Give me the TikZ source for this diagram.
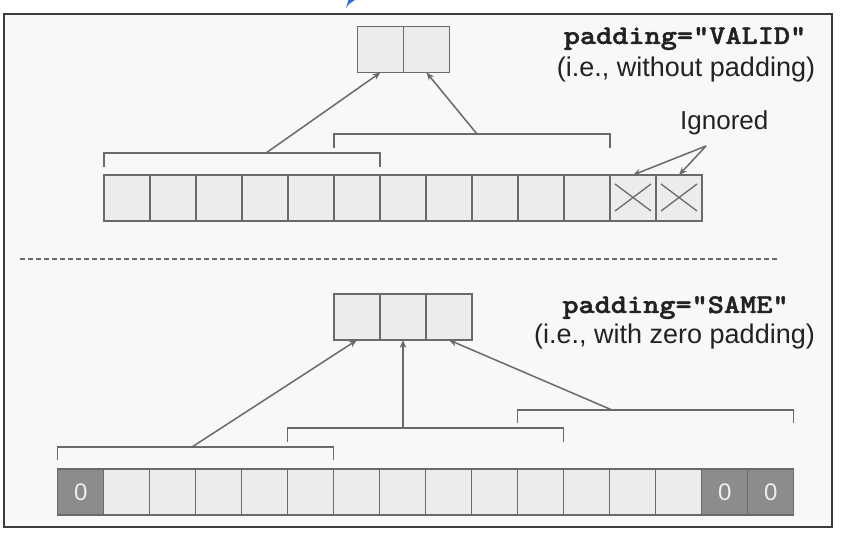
\documentclass[tikz,border=0pt]{standalone}
\usepackage{fontspec}
\setmainfont{Liberation Sans}
\newfontfamily\codefont[FakeStretch=1.14,FakeBold=1.6]{lmmonolt10-bold.otf}
\usetikzlibrary{arrows.meta}
\definecolor{linegray}{HTML}{6A6A6A}
\definecolor{framegray}{HTML}{3C3C3C}
\definecolor{cellfill}{HTML}{ECECEC}
\definecolor{zerofill}{HTML}{8C8C8C}
\definecolor{zerotext}{HTML}{EEEEEE}
\definecolor{inkcol}{HTML}{222222}
\definecolor{bgin}{HTML}{F8F8F8}
\definecolor{bluemark}{HTML}{2B6CD4}
\tikzset{
  cell/.style={draw=linegray, fill=cellfill, line width=1.5bp, minimum width=46bp, minimum height=46bp, inner sep=0pt, outer sep=0pt},
  zcell/.style={cell, fill=zerofill, text=zerotext, font=\fontsize{24bp}{26bp}\selectfont},
  brk/.style={draw=linegray, line width=1.5bp},
  arr/.style={draw=linegray, line width=1.5bp, -{Stealth[length=8bp,width=6.5bp]}},
  codetxt/.style={text=inkcol, font=\codefont\fontsize{27bp}{32bp}\selectfont, inner sep=0pt},
  plaintxt/.style={text=inkcol, font=\fontsize{27bp}{32bp}\selectfont, inner sep=0pt},
}
\begin{document}
\begin{tikzpicture}[x=1bp, y=-1bp]
\useasboundingbox (0,0) rectangle (846,533);
\fill[white] (0,0) rectangle (846,533);
% blue mark at the top edge
\fill[bluemark] (346,8) -- (348.5,0) -- (355,0) -- (349,4) -- cycle;
% frame
\draw[framegray, fill=bgin, line width=1.5bp] (4,14) rectangle (832,527);
% dashed separator
\draw[linegray, line width=2bp, dash pattern=on 5bp off 3bp] (20,259) -- (780,259);

% ---------------- VALID ----------------
\foreach \i in {1,...,13} {
  \node[cell] (v\i) at ({81+46*\i},198) {};
}
\foreach \i in {12,13} {
  \draw[linegray, line width=1.3bp] ([shift={(-18bp,14bp)}]v\i.center) -- ([shift={(18bp,-13bp)}]v\i.center);
  \draw[linegray, line width=1.3bp] ([shift={(-18bp,-13bp)}]v\i.center) -- ([shift={(18bp,14bp)}]v\i.center);
}
\node[cell] (o1) at (380.5,49.5) {};
\node[cell] (o2) at (426.5,49.5) {};

\draw[brk] ([yshift=8bp]v1.north west) -- ([yshift=22bp]v1.north west) -- ([yshift=22bp]v6.north east) -- ([yshift=8bp]v6.north east);
\draw[brk] ([yshift=27bp]v6.north west) -- ([yshift=41bp]v6.north west) -- ([yshift=41bp]v11.north east) -- ([yshift=27bp]v11.north east);

\coordinate (va) at (266,153);
\coordinate (vb) at (477,134);
\draw[arr] (va) -- (o1.south);
\draw[arr] (vb) -- (o2.south);

\node[codetxt, anchor=base] (vt1) at (685,44) {padding="VALID"};
\node[plaintxt, anchor=base] (vt2) at (686,77) {(i.e., without padding)};

\node[plaintxt, anchor=base west, font=\fontsize{26bp}{30bp}\selectfont] (ign) at (680,130) {Ignored};
\coordinate (igs) at (706,146);
\draw[arr] (igs) -- (v12.north);
\draw[arr] (igs) -- (v13.north);

% ---------------- SAME ----------------
\node[zcell] (w1) at (80.7,492) {0};
\foreach \i in {2,...,14} {
  \node[cell] (w\i) at ({34.7+46*\i},492) {};
}
\node[zcell] (w15) at (724.7,492) {0};
\node[zcell] (w16) at (770.7,492) {0};

\node[cell] (s1) at (357,317) {};
\node[cell] (s2) at (403,317) {};
\node[cell] (s3) at (449,317) {};

\draw[brk] ([yshift=9bp]w1.north west) -- ([yshift=22bp]w1.north west) -- ([yshift=22bp]w6.north east) -- ([yshift=9bp]w6.north east);
\draw[brk] ([yshift=27bp]w6.north west) -- ([yshift=41bp]w6.north west) -- ([yshift=41bp]w11.north east) -- ([yshift=27bp]w11.north east);
\draw[brk] ([yshift=46bp]w11.north west) -- ([yshift=59bp]w11.north west) -- ([yshift=59bp]w16.north east) -- ([yshift=46bp]w16.north east);

\coordinate (sa) at (192,447);
\coordinate (sb) at (403,428);
\coordinate (sc) at (612,410);
\draw[arr] (sa) -- (s1.south);
\draw[arr] (sb) -- (s2.south);
\draw[arr] (sc) -- (s3.south);

\node[codetxt, anchor=base] (st1) at (675.5,313) {padding="SAME"};
\node[plaintxt, anchor=base] (st2) at (674.5,343) {(i.e., with zero padding)};
\end{tikzpicture}
\end{document}
